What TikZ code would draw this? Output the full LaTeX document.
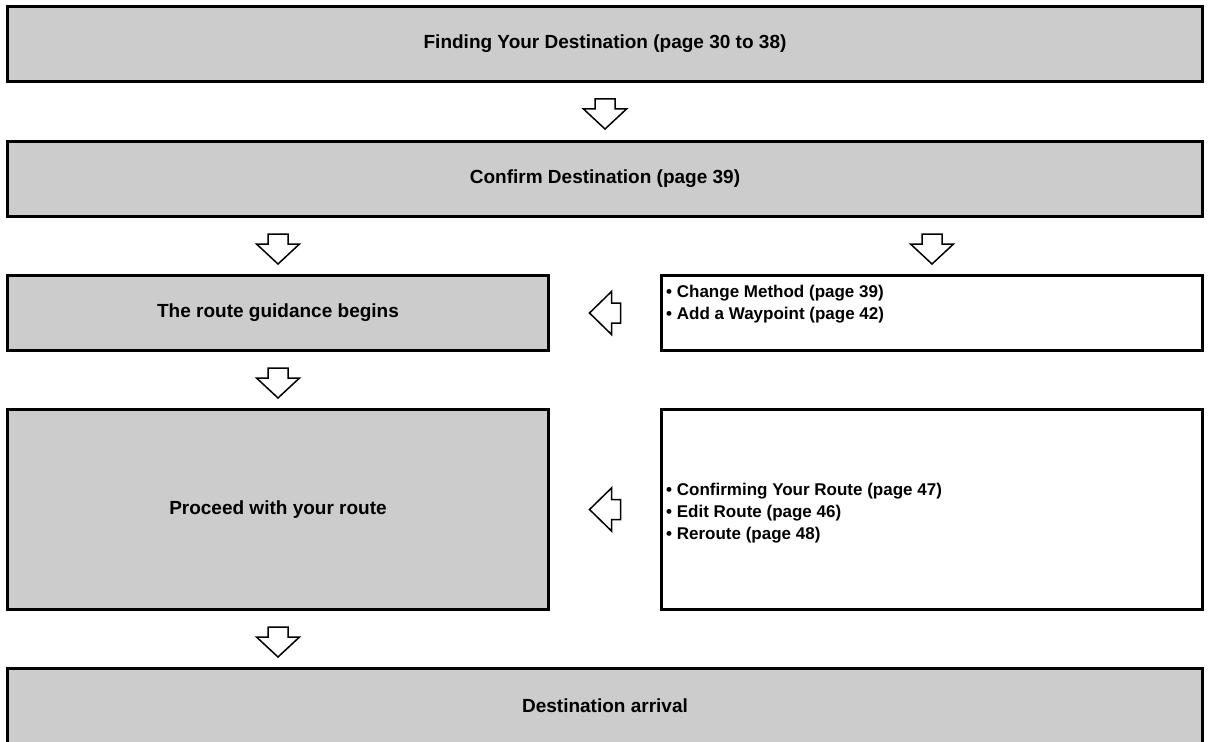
\documentclass[tikz,border=0pt]{standalone}
\usepackage{fontspec}
\setmainfont{Liberation Sans}
\usetikzlibrary{positioning,calc}
\definecolor{boxgray}{HTML}{CCCCCC}

\tikzset{
  stepbox/.style={draw=black, line width=3pt, fill=boxgray, inner sep=0pt,
    minimum height=75pt, font=\fontsize{19}{22}\selectfont\bfseries},
  notebox/.style={draw=black, line width=3pt, fill=white, inner sep=0pt},
  notetext/.style={anchor=west, align=left, inner sep=0pt,
    font=\fontsize{17}{22}\selectfont\bfseries},
  blockarrow/.style={draw=black, line width=1.5pt, fill=white, line join=miter},
  downarrow/.pic={\path[blockarrow] (-10,0) -- (10,0) -- (10,10) -- (21.5,10)
    -- (0,30) -- (-21.5,10) -- (-10,10) -- cycle;},
  leftarrow/.pic={\path[blockarrow] (15.5,-10) -- (15.5,10) -- (6.5,10)
    -- (6.5,21.5) -- (-15.5,0) -- (6.5,-21.5) -- (6.5,-10) -- cycle;}
}

\begin{document}
\begin{tikzpicture}[x=1pt, y=-1pt]
  \useasboundingbox (0,0) rectangle (1209,741);
  % Main steps
  \node[stepbox, minimum width=1195pt] (find) at (605,44)
    {Finding Your Destination (page 30 to 38)};
  \node[stepbox, minimum width=1195pt] (confirm) at (605,179)
    {Confirm Destination (page 39)};
  \node[stepbox, minimum width=541pt] (begins) at (278,313)
    {The route guidance begins};
  \node[stepbox, minimum width=541pt, minimum height=200pt] (proceed) at (278,509.5)
    {Proceed with your route};
  \node[stepbox, minimum width=1195pt] (arrival) at (605,706)
    {Destination arrival};
  % Side boxes
  \node[notebox, minimum width=541pt, minimum height=75pt] (change) at (932,313) {};
  \node[notetext] (changetext) at (666,304)
    {• Change Method (page 39)\\• Add a Waypoint (page 42)};
  \node[notebox, minimum width=541pt, minimum height=200pt] (options) at (932,509.5) {};
  \node[notetext] (optionstext) at (666,513)
    {• Confirming Your Route (page 47)\\• Edit Route (page 46)\\• Reroute (page 48)};
  % Arrows
  \pic at ($(find.south)+(0,16)$) {downarrow};
  \pic at ($(confirm.south -| begins)+(0,16)$) {downarrow};
  \pic at ($(confirm.south -| change)+(0,16)$) {downarrow};
  \pic at ($(begins.south)+(0,16)$) {downarrow};
  \pic at ($(proceed.south)+(0,16)$) {downarrow};
  \pic at ($(begins.east)!0.5!(change.west)$) {leftarrow};
  \pic at ($(proceed.east)!0.5!(options.west)$) {leftarrow};
\end{tikzpicture}
\end{document}
